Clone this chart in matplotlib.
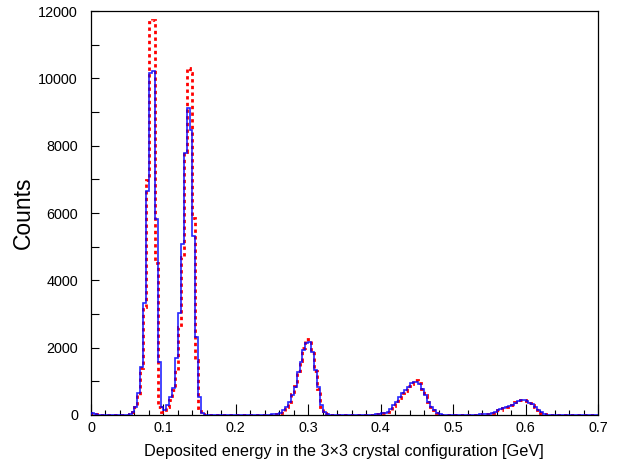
import matplotlib
matplotlib.use("Agg")
import matplotlib.pyplot as plt
import numpy as np
from matplotlib.ticker import MultipleLocator, FuncFormatter

plt.rcParams['font.family'] = ['Liberation Sans', 'DejaVu Sans']

# histogram binning: 175 bins of 4 MeV from 0 to 0.7 GeV
bin_width = 0.004
n_bins = 175

# counts per bin, given as segments (first bin index, values)
seg_start = [0, 10, 60, 96, 132]

blue_seg0 = [70, 25, 5]
blue_seg1 = [0, 5, 10, 30, 100, 250, 645, 1435, 3317, 6650, 10150, 10220, 5810, 1580, 250,
             150, 300, 530, 810, 1690, 3030, 5070, 7790, 9110, 8465, 5316, 2326, 520, 60, 10]
blue_seg2 = [5, 8, 15, 25, 40, 70, 150, 250, 380, 594, 820, 1286, 1583, 1930, 2130, 2180,
             1880, 1336, 820, 300, 80, 20, 5]
blue_seg3 = [5, 10, 20, 35, 50, 60, 100, 170, 300, 400, 525, 645, 740, 840, 940, 970, 970,
             920, 760, 594, 400, 250, 150, 50, 15]
blue_seg4 = [5, 10, 15, 20, 30, 40, 55, 100, 140, 170, 200, 240, 260, 310, 365, 415, 445,
             445, 415, 370, 320, 250, 150, 80, 25, 8, 3]

red_seg0 = [50, 20, 5]
red_seg1 = [0, 5, 10, 20, 80, 230, 600, 1400, 3200, 6980, 11680, 11730, 4514, 250, 100,
            100, 250, 450, 740, 1340, 2620, 4700, 7800, 10300, 10150, 5840, 1630, 200, 30, 5]
red_seg2 = [3, 5, 10, 20, 35, 70, 130, 230, 380, 620, 850, 1300, 1600, 2000, 2250, 2200,
            1850, 1300, 780, 250, 60, 15, 3]
red_seg3 = [5, 10, 15, 30, 45, 55, 95, 160, 280, 420, 500, 650, 720, 860, 930, 1000, 1050,
            950, 780, 580, 390, 240, 140, 45, 10]
red_seg4 = [5, 8, 12, 20, 30, 40, 50, 90, 150, 160, 210, 230, 280, 300, 380, 400, 460,
            440, 430, 360, 300, 240, 160, 70, 30, 10, 3]


def fill_bins(segments):
    counts = np.zeros(n_bins)
    for start, vals in zip(seg_start, segments):
        counts[start:start + len(vals)] = vals
    return counts


edges = np.arange(n_bins + 1) * bin_width
blue = fill_bins([blue_seg0, blue_seg1, blue_seg2, blue_seg3, blue_seg4])
red = fill_bins([red_seg0, red_seg1, red_seg2, red_seg3, red_seg4])

fig = plt.figure(figsize=(6.22, 4.66), dpi=100)
ax = fig.add_axes([91 / 622, 1 - 415 / 466, 507 / 622, 404 / 466])

ax.stairs(red, edges, color='#ff0000', lw=2.0, linestyle=(0, (1.2, 1.2)), zorder=2)
ax.stairs(blue, edges, color='#0000ff', lw=1.2, alpha=0.85, zorder=3)

ax.set_xlim(0, 0.7)
ax.set_ylim(0, 12000)

ax.xaxis.set_major_locator(MultipleLocator(0.1))
ax.xaxis.set_minor_locator(MultipleLocator(0.02))
ax.yaxis.set_major_locator(MultipleLocator(2000))
ax.yaxis.set_minor_locator(MultipleLocator(1000))
ax.xaxis.set_major_formatter(FuncFormatter(lambda v, p: '%g' % round(v, 3)))

ax.tick_params(axis='x', which='major', direction='in', length=8, width=0.8, pad=4.5, labelsize=10.4)
ax.tick_params(axis='x', which='minor', direction='in', length=3.8, width=0.8)
ax.tick_params(axis='y', which='major', direction='in', length=5.8, width=0.8, pad=9.4, labelsize=10.4)
ax.tick_params(axis='y', which='minor', direction='in', length=5.8, width=0.8)
for s in ax.spines.values():
    s.set_linewidth(0.9)

ax.set_xlabel('Deposited energy in the 3\u00d73 crystal configuration [GeV]', fontsize=11.7)
ax.xaxis.set_label_coords(0.499, -0.072)
ax.set_ylabel('Counts', fontsize=16.5)
ax.yaxis.set_label_coords(-0.110, 0.5)

fig.savefig('out.png', dpi=100)
